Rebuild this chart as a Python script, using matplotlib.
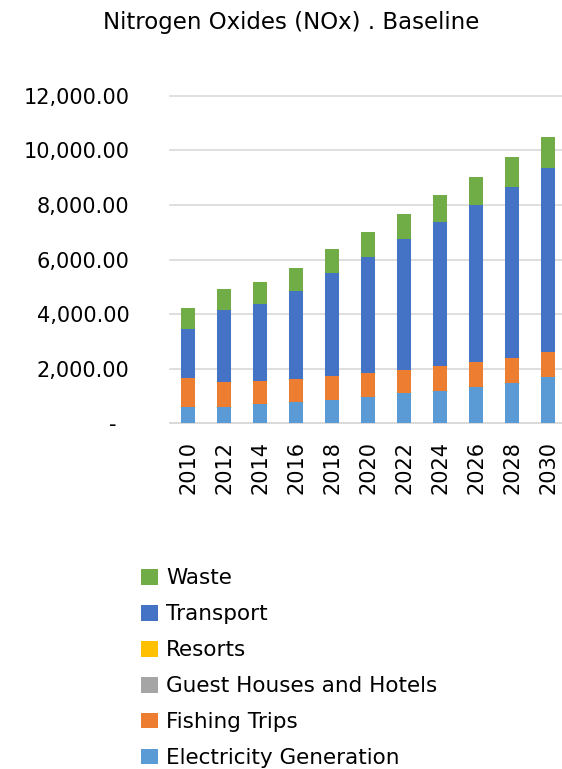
import matplotlib
matplotlib.use("Agg")
import matplotlib.pyplot as plt
from matplotlib.ticker import FuncFormatter
import numpy as np

years = ["2010", "2012", "2014", "2016", "2018", "2020", "2022", "2024", "2026", "2028", "2030"]
electricity = [608, 586, 718, 780, 865, 963, 1099, 1194, 1330, 1487, 1685]
fishing = [1040, 938, 831, 843, 868, 879, 864, 894, 904, 916, 916]
guest_houses = [0, 0, 0, 0, 0, 0, 0, 0, 0, 0, 0]
resorts = [0, 0, 0, 0, 0, 0, 0, 0, 0, 0, 0]
transport = [1817, 2615, 2832, 3234, 3761, 4260, 4777, 5275, 5773, 6264, 6762]
waste = [747, 769, 795, 843, 879, 916, 938, 989, 1026, 1077, 1113]

series = [
    ("Electricity Generation", electricity, "#5B9BD5"),
    ("Fishing Trips", fishing, "#ED7D31"),
    ("Guest Houses and Hotels", guest_houses, "#A5A5A5"),
    ("Resorts", resorts, "#FFC000"),
    ("Transport", transport, "#4472C4"),
    ("Waste", waste, "#70AD47"),
]

plt.rcParams['font.family'] = ['DejaVu Sans']
W, H = 562, 769
fig = plt.figure(figsize=(W / 100, H / 100), dpi=100)
ax = fig.add_axes([170 / W, (H - 423.3) / H, 396 / W, 327.6 / H])

x = np.arange(len(years))
bottom = np.zeros(len(years))
handles = []
for name, vals, col in series:
    b = ax.bar(x, vals, width=0.39, bottom=bottom, color=col, label=name, zorder=3)
    handles.append(b)
    bottom += np.array(vals)

ax.set_xlim(-0.5, len(years) - 0.5)
ax.set_ylim(0, 12000)
ax.set_yticks(np.arange(0, 12001, 2000))
ax.yaxis.set_major_formatter(FuncFormatter(lambda v, p: "-  " if v == 0 else f"{v:,.2f}"))
ax.set_xticks(x)
ax.set_xticklabels(years, rotation=90)
ax.tick_params(axis='both', length=0, labelsize=15)
ax.tick_params(axis='y', pad=29)
ax.tick_params(axis='x', pad=13)
ax.grid(axis='y', color='#D9D9D9', linewidth=1.2, zorder=0)
for gl in ax.get_ygridlines():
    gl.set_clip_on(False)
for s in ['top', 'right', 'left']:
    ax.spines[s].set_visible(False)
ax.spines['bottom'].set_color('#D9D9D9')
ax.spines['bottom'].set_linewidth(1.2)

fig.text(291 / W, 1 - 23 / H, "Nitrogen Oxides (NOx) . Baseline", ha='center', va='center', fontsize=16.5)

leg = fig.legend(handles[::-1], [s[0] for s in series][::-1], loc='upper left',
                 bbox_to_anchor=(122 / W, 1 - 549 / H), frameon=False, fontsize=15.5,
                 handlelength=0.75, handleheight=0.75, handletextpad=0.4, labelspacing=0.74)

fig.savefig("out.png", dpi=100)
